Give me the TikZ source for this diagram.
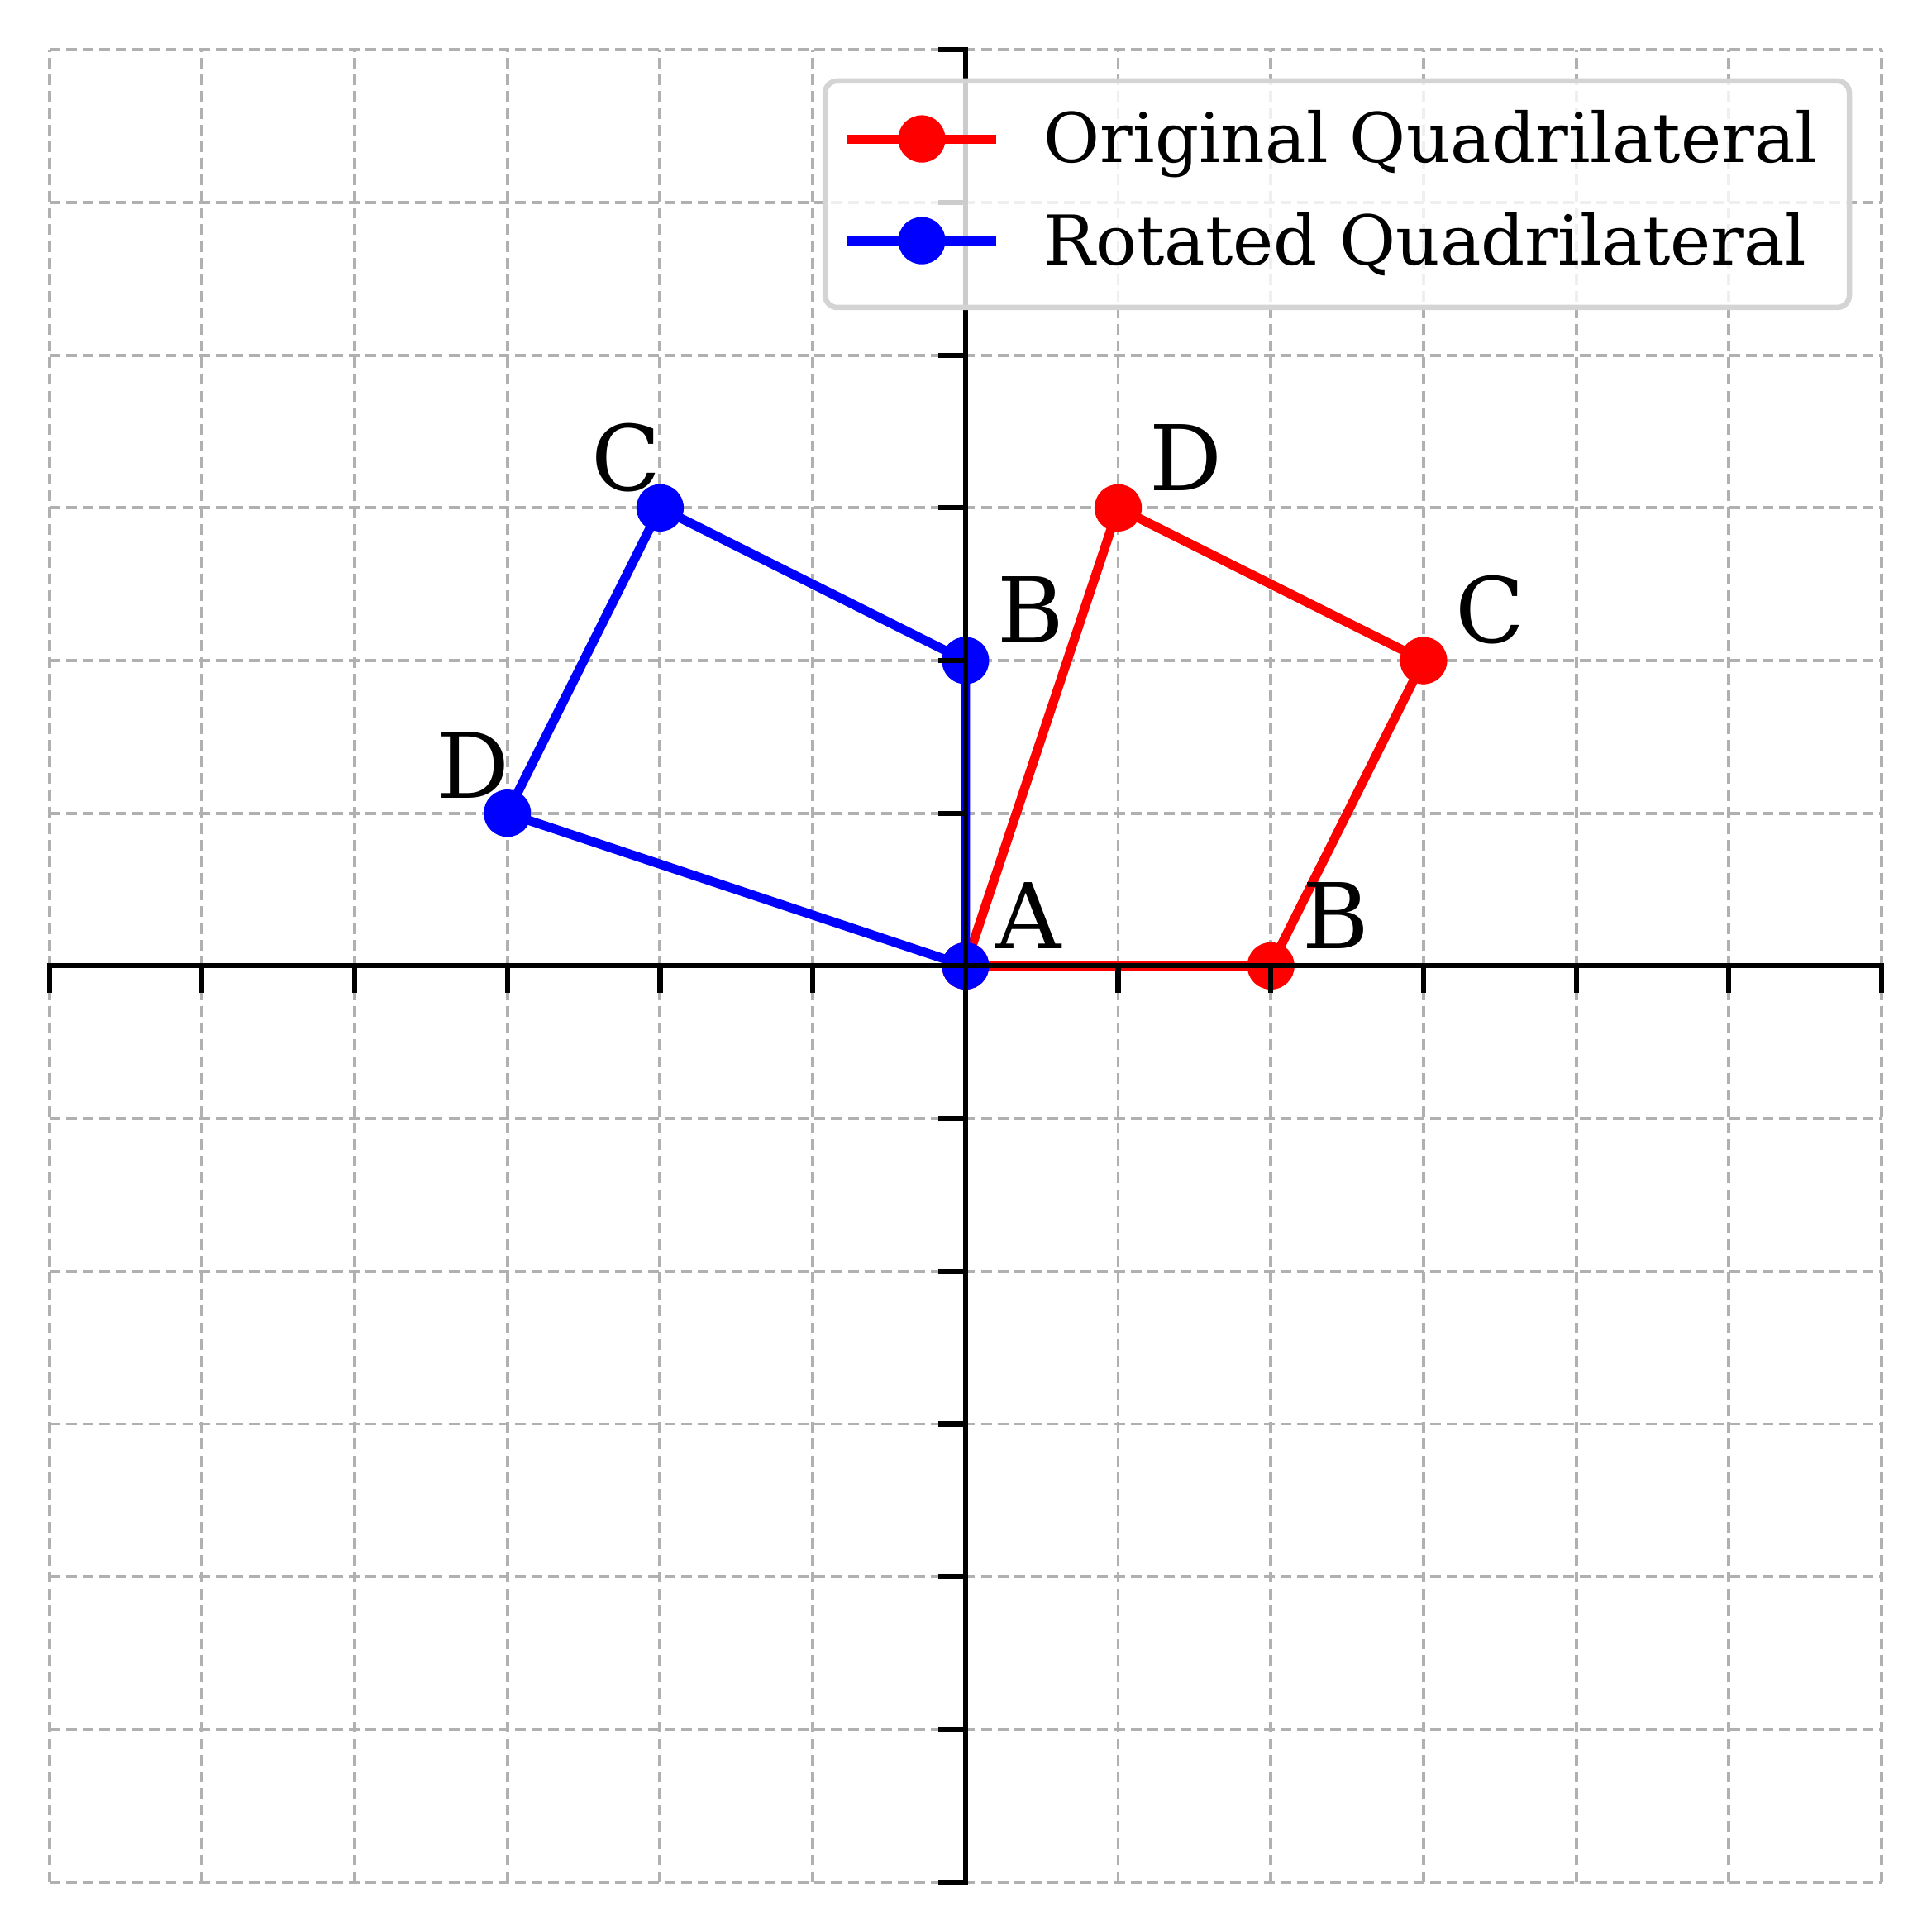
\documentclass[tikz,border=0pt]{standalone}
\usepackage{fontspec}
\setmainfont{DejaVu Serif}
\definecolor{gridgray}{RGB}{176,176,176}
\definecolor{framegray}{RGB}{212,212,212}
\begin{document}
\begin{tikzpicture}[font=\fontsize{16.9}{20}\selectfont,
  gridline/.style={gridgray,line width=0.6pt,dash pattern=on 2pt off 1.1pt},
  axisline/.style={black,line width=0.95pt,line cap=rect},
  quad/.style={line width=1.7pt,line join=round},
  dot/.style={circle,fill,inner sep=0pt,minimum size=0.31cm},
  lab/.style={inner sep=0pt},
  legendbox/.style={draw=framegray,line width=1pt,rounded corners=0.08cm,fill=white,fill opacity=0.8}]
\useasboundingbox (-6.323,-6.326) rectangle (6.330,6.326);
% grid
\foreach \k in {-6,...,6}{
 \draw[gridline] (\k,-6)--(\k,6);
 \draw[gridline] (-6,\k)--(6,\k);
}
% original quadrilateral
\coordinate (oA) at (0,0);\coordinate (oB) at (2,0);
\coordinate (oC) at (3,2);\coordinate (oD) at (1,3);
\draw[quad,red] (oA)--(oB)--(oC)--(oD)--cycle;
\foreach \p in {oA,oB,oC,oD}{
 \node[dot,red] (m\p) at (\p) {};
}
\node[lab,anchor=base west,xshift=0.2cm,yshift=0.115cm] (loB) at (oB) {B};
\node[lab,anchor=base west,xshift=0.2cm,yshift=0.115cm] (loC) at (oC) {C};
\node[lab,anchor=base west,xshift=0.2cm,yshift=0.115cm] (loD) at (oD) {D};
% rotated quadrilateral
\coordinate (rA) at (0,0);\coordinate (rB) at (0,2);
\coordinate (rC) at (-2,3);\coordinate (rD) at (-3,1);
\draw[quad,blue] (rA)--(rB)--(rC)--(rD)--cycle;
\foreach \p in {rA,rB,rC,rD}{
 \node[dot,blue] (m\p) at (\p) {};
}
\node[lab,anchor=base west,xshift=0.19cm,yshift=0.114cm] (lA) at (rA) {A};
\node[lab,anchor=base west,xshift=0.2cm,yshift=0.115cm] (lrB) at (rB) {B};
\node[lab,anchor=base east,xshift=0.01cm,yshift=0.11cm] (lrC) at (rC) {C};
\node[lab,anchor=base east,xshift=0.02cm,yshift=0.1cm] (lrD) at (rD) {D};
% axes
\coordinate (xl) at (-6,0);\coordinate (xr) at (6,0);
\coordinate (yb) at (0,-6);\coordinate (yt) at (0,6);
\draw[axisline] (xl)--(xr);
\draw[axisline] (yb)--(yt);
\foreach \k in {-6,...,6}{
 \draw[axisline] (\k,0)--(\k,-0.162);
 \draw[axisline] (0,\k)--(-0.162,\k);
}
% legend
\draw[legendbox] (-0.919,4.312) rectangle (5.789,5.796);
\coordinate (l1a) at (-0.773,5.416);\coordinate (l1b) at (0.202,5.416);
\coordinate (l2a) at (-0.773,4.750);\coordinate (l2b) at (0.202,4.750);
\draw[quad,red] (l1a)--(l1b);
\node[dot,red] (lm1) at (-0.286,5.416) {};
\draw[quad,blue] (l2a)--(l2b);
\node[dot,blue] (lm2) at (-0.286,4.750) {};
\node[lab,anchor=base west,font=\fontsize{12.8}{15}\selectfont] (lt1) at (0.507,5.26) {Original Quadrilateral};
\node[lab,anchor=base west,font=\fontsize{12.8}{15}\selectfont] (lt2) at (0.507,4.593) {Rotated Quadrilateral};
\end{tikzpicture}
\end{document}
